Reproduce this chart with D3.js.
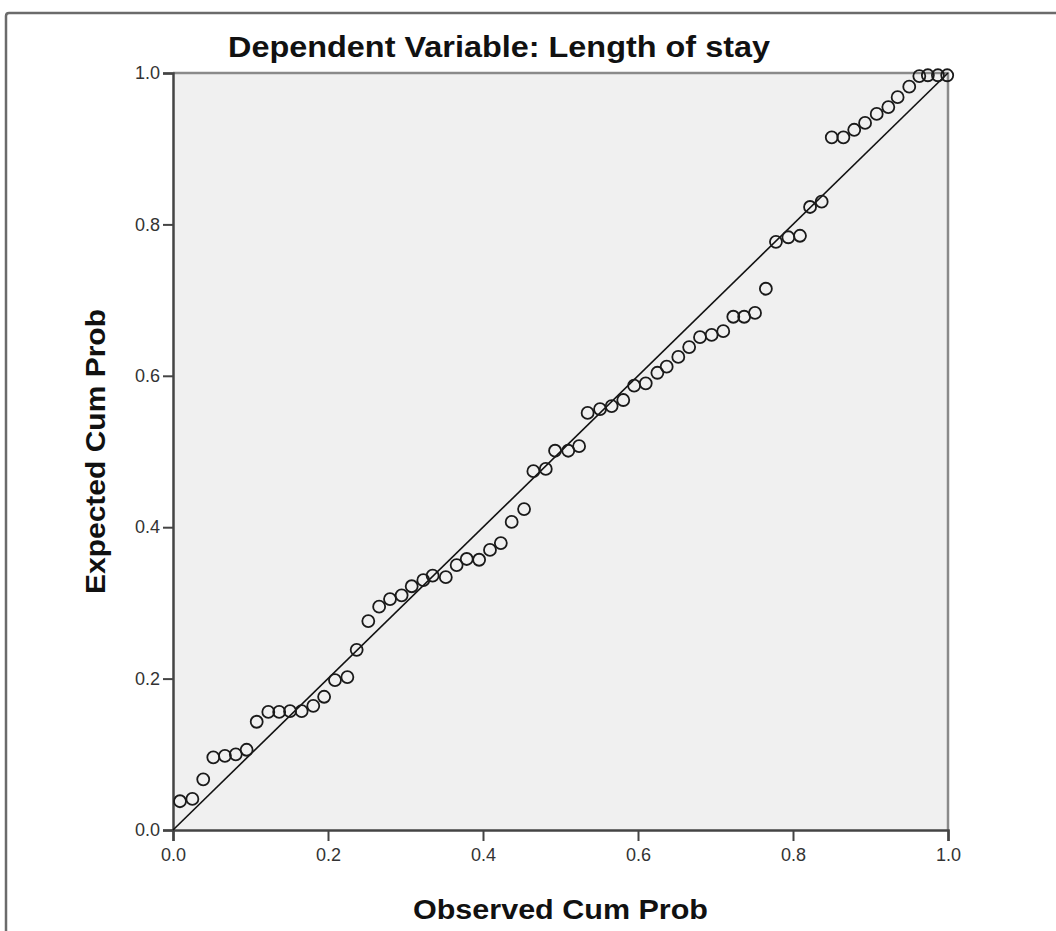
<!DOCTYPE html>
<html>
<head>
<meta charset="utf-8">
<script src="https://cdn.jsdelivr.net/npm/d3@7/dist/d3.min.js"></script>
<style>
  body { margin: 0; background: #fff; }
  svg { display: block; font-family: "Liberation Sans", Arial, sans-serif; }
</style>
</head>
<body>
<svg width="1056" height="931"></svg>
<script>
// P-P plot of regression residuals
var chartTitle = "Dependent Variable: Length of stay";
var xTitle = "Observed Cum Prob";
var yTitle = "Expected Cum Prob";
var tickValues = [0, 0.2, 0.4, 0.6, 0.8, 1.0];

var observed = [0.009, 0.025, 0.039, 0.052, 0.067, 0.081, 0.095, 0.108, 0.123, 0.137,
  0.151, 0.166, 0.181, 0.195, 0.209, 0.225, 0.237, 0.252, 0.266, 0.280,
  0.295, 0.308, 0.323, 0.335, 0.352, 0.366, 0.379, 0.395, 0.409, 0.423,
  0.437, 0.453, 0.465, 0.481, 0.493, 0.510, 0.524, 0.535, 0.551, 0.566,
  0.581, 0.595, 0.610, 0.625, 0.637, 0.652, 0.666, 0.680, 0.695, 0.710,
  0.723, 0.737, 0.751, 0.765, 0.778, 0.794, 0.809, 0.822, 0.837, 0.850,
  0.865, 0.879, 0.893, 0.908, 0.923, 0.935, 0.950, 0.963, 0.974, 0.987, 0.999];

var expected = [0.038, 0.041, 0.067, 0.096, 0.098, 0.100, 0.106, 0.143, 0.156, 0.156,
  0.157, 0.157, 0.164, 0.176, 0.198, 0.202, 0.238, 0.276, 0.295, 0.305,
  0.310, 0.322, 0.330, 0.336, 0.334, 0.350, 0.358, 0.357, 0.370, 0.379,
  0.407, 0.424, 0.474, 0.477, 0.501, 0.501, 0.507, 0.551, 0.556, 0.560,
  0.568, 0.587, 0.590, 0.604, 0.612, 0.625, 0.638, 0.651, 0.654, 0.659,
  0.678, 0.678, 0.683, 0.715, 0.777, 0.783, 0.785, 0.823, 0.830, 0.915,
  0.915, 0.925, 0.934, 0.946, 0.955, 0.968, 0.982, 0.996, 0.997, 0.997, 0.997];

var svg = d3.select("svg"),
    width = +svg.attr("width"),
    height = +svg.attr("height");

var plotLeft = 173, plotRight = 948, plotTop = 73, plotBottom = 830;

var x = d3.scaleLinear().domain([0, 1]).range([plotLeft, plotRight]);
var y = d3.scaleLinear().domain([0, 1]).range([plotBottom, plotTop]);

// outer chart frame, runs off the page right and bottom
svg.append("path")
    .attr("d", "M6," + height + " V16 Q6,13 9,13 H" + width)
    .attr("fill", "none")
    .attr("stroke", "#6b6b6b")
    .attr("stroke-width", 2.5);

// plot background
svg.append("rect")
    .attr("x", plotLeft)
    .attr("y", plotTop)
    .attr("width", plotRight - plotLeft)
    .attr("height", plotBottom - plotTop)
    .attr("fill", "#f0f0f0");

// top + right border (lighter)
svg.append("path")
    .attr("d", "M" + plotLeft + "," + plotTop + " H" + plotRight + " V" + plotBottom)
    .attr("fill", "none")
    .attr("stroke", "#8a8a8a")
    .attr("stroke-width", 2.5);

var fmt = d3.format(".1f");

var xAxis = svg.append("g")
    .attr("transform", "translate(0," + plotBottom + ")")
    .call(d3.axisBottom(x).tickValues(tickValues).tickFormat(fmt).tickSize(11).tickPadding(7));

var yAxis = svg.append("g")
    .attr("transform", "translate(" + plotLeft + ",0)")
    .call(d3.axisLeft(y).tickValues(tickValues).tickFormat(fmt).tickSize(10).tickPadding(3));

[xAxis, yAxis].forEach(function(a) {
  a.select(".domain").attr("stroke", "#444").attr("stroke-width", 2.5);
  a.selectAll(".tick line").attr("stroke", "#444").attr("stroke-width", 2);
  a.selectAll(".tick text")
    .attr("fill", "#333")
    .style("font-size", "18px")
    .style("font-family", "'Liberation Sans Narrow', 'Liberation Sans', Arial, sans-serif");
});

// reference diagonal
svg.append("line")
    .attr("x1", x(0)).attr("y1", y(0))
    .attr("x2", x(1)).attr("y2", y(1))
    .attr("stroke", "#111")
    .attr("stroke-width", 1.6);

var pts = observed.map(function(d, i) { return {o: d, e: expected[i]}; });

svg.append("g")
  .selectAll("circle")
  .data(pts)
  .enter().append("circle")
    .attr("cx", function(d) { return x(d.o); })
    .attr("cy", function(d) { return y(d.e); })
    .attr("r", 6)
    .attr("fill", "none")
    .attr("stroke", "#1a1a1a")
    .attr("stroke-width", 1.8);

// titles
svg.append("text")
    .attr("x", 499)
    .attr("y", 57)
    .attr("text-anchor", "middle")
    .attr("textLength", 542)
    .attr("lengthAdjust", "spacingAndGlyphs")
    .style("font-size", "29px")
    .style("font-weight", "bold")
    .attr("fill", "#111")
    .text(chartTitle);

svg.append("text")
    .attr("x", (plotLeft + plotRight) / 2)
    .attr("y", 919)
    .attr("text-anchor", "middle")
    .attr("textLength", 295)
    .attr("lengthAdjust", "spacingAndGlyphs")
    .style("font-size", "28px")
    .style("font-weight", "bold")
    .attr("fill", "#111")
    .text(xTitle);

svg.append("text")
    .attr("transform", "translate(105," + (plotTop + plotBottom) / 2 + ") rotate(-90)")
    .attr("text-anchor", "middle")
    .attr("textLength", 285)
    .attr("lengthAdjust", "spacingAndGlyphs")
    .style("font-size", "28px")
    .style("font-weight", "bold")
    .attr("fill", "#111")
    .text(yTitle);
</script>
</body>
</html>
